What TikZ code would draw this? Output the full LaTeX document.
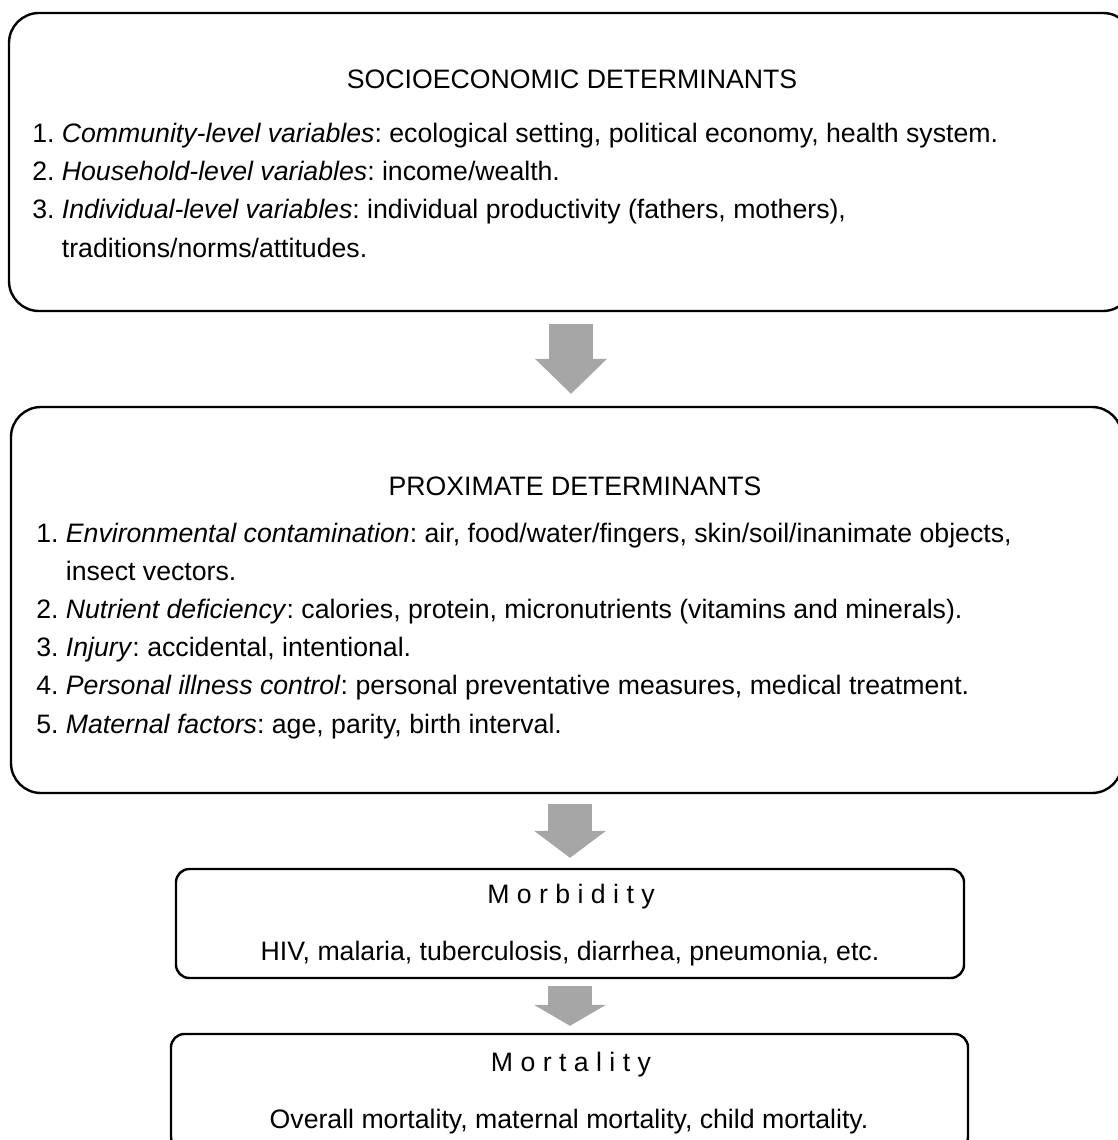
\documentclass[tikz,border=0pt]{standalone}
\usepackage{fontspec}
\setmainfont{Liberation Sans}
\usetikzlibrary{arrows.meta}
\definecolor{arrowgray}{RGB}{166,166,166}
\frenchspacing

\begin{document}
\begin{tikzpicture}[
                    x=0.75pt, y=-0.75pt,
                    every node/.style={font=\fontsize{20}{28.6}\selectfont, inner sep=0pt},
                    box/.style={draw, line width=1.8pt, rounded corners=#1},
                    list/.style={anchor=base west, align=left},
                    title/.style={anchor=base},
                    blockarrow/.style={arrowgray, line width=33pt,
                        -{Triangle[width=54pt, length=#1, line width=0pt]}}
                ]
                  \useasboundingbox (0,0) rectangle (1118,1140);
                  % boxes
                  \node[box=22.5pt, minimum width=843pt, minimum height=223.5pt] (socio) at (571,162) {};
                  \node[box=22.5pt, minimum width=833.25pt, minimum height=289.5pt] (proxim) at (566.5,600) {};
                  \node[box=10pt, minimum width=591pt, minimum height=81.75pt] (morbid) at (570,923.5) {};
                  \node[box=10pt, minimum width=597.75pt, minimum height=87pt] (mortal) at (569.5,1092) {};
                  % texts (list nodes sit on their last line)
                  \node[title] (socio-title) at (572,88) {SOCIOECONOMIC DETERMINANTS};
                  \node[list] (socio-list) at (32,257) {1. \textit{Community-level variables}: ecological setting, political economy, health system.\\
                    2. \textit{Household-level variables}: income/wealth.\\
                    3. \textit{Individual-level variables}: individual productivity (fathers, mothers),\\
                    \hphantom{3. }traditions/norms/attitudes.};
                  \node[title] (proxim-title) at (575,495) {PROXIMATE DETERMINANTS};
                  \node[list] (proxim-list) at (36,733) {1. \textit{Environmental contamination}: air, food/water/fingers, skin/soil/inanimate objects,\\
                    \hphantom{1. }insect vectors.\\
                    2. \textit{Nutrient deficiency}: calories, protein, micronutrients (vitamins and minerals).\\
                    3. \textit{Injury}: accidental, intentional.\\
                    4. \textit{Personal illness control}: personal preventative measures, medical treatment.\\
                    5. \textit{Maternal factors}: age, parity, birth interval.};
                  \node[title] (morbid-title) at (571,903) {M o r b i d i t y};
                  \node[title] (morbid-text) at (570,960) {HIV, malaria, tuberculosis, diarrhea, pneumonia, etc.};
                  \node[title] (mortal-title) at (571,1071) {M o r t a l i t y};
                  \node[title] (mortal-text) at (569,1128) {Overall mortality, maternal mortality, child mortality.};
                  % arrows
                  \draw[blockarrow=26.25pt, shorten <=9pt, shorten >=9pt] (socio.south) -- (socio.south |- proxim.north);
                  \draw[blockarrow=20.25pt, shorten <=7.5pt, shorten >=7.5pt] (morbid.north |- proxim.south) -- (morbid.north);
                  \draw[blockarrow=15.75pt, shorten <=5.25pt, shorten >=5.25pt] (morbid.south) -- (morbid.south |- mortal.north);
                \end{tikzpicture}
\end{document}
